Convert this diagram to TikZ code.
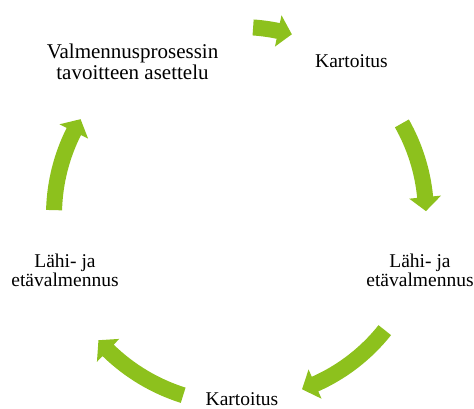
\documentclass[tikz,border=0pt]{standalone}
\usepackage{fontspec}
\setmainfont{Liberation Serif}
\usepackage{tikz}
\usepackage{xcolor}

\definecolor{cyclegreen}{RGB}{141,193,29}

\begin{document}
\begin{tikzpicture}[x=1pt, y=1pt,
    label/.style={align=center, anchor=base, inner sep=0pt,
                  font=\fontsize{19.5}{19}\selectfont}]
      \useasboundingbox (0,0) rectangle (474,408);

      % multi-line labels sit on the baseline of their last line
      \node[label, font=\fontsize{21}{20}\selectfont] (valm) at (132.5,329)
            {Valmennusprosessin\\tavoitteen asettelu};
      \node[label] (kart1) at (351.5,340) {Kartoitus};
      \node[label] (lahi1) at (420,122)   {Lähi- ja\\etävalmennus};
      \node[label] (kart2) at (242,3)     {Kartoitus};
      \node[label] (lahi2) at (65,122)    {Lähi- ja\\etävalmennus};

      \coordinate (hub) at (240,193);

      % start angle/end angle/radius, clockwise block arrows
      \foreach \s/\e/\r in {86/74/188, 29.5/1.2/186, -38.5/-70.4/185,
                            -107.5/-138.5/189, 178.5/149/186} {
        \pgfmathsetmacro{\hb}{\e+14/\r*57.3}
        \fill[cyclegreen, shift={(hub)}]
          ({\s}:{\r+8}) arc[start angle=\s, end angle=\hb, radius=\r+8]
          -- ({\hb}:{\r+16}) -- ({\e}:{\r}) -- ({\hb}:{\r-16})
          -- ({\hb}:{\r-8}) arc[start angle=\hb, end angle=\s, radius=\r-8]
          -- cycle;
      }
    \end{tikzpicture}
\end{document}
